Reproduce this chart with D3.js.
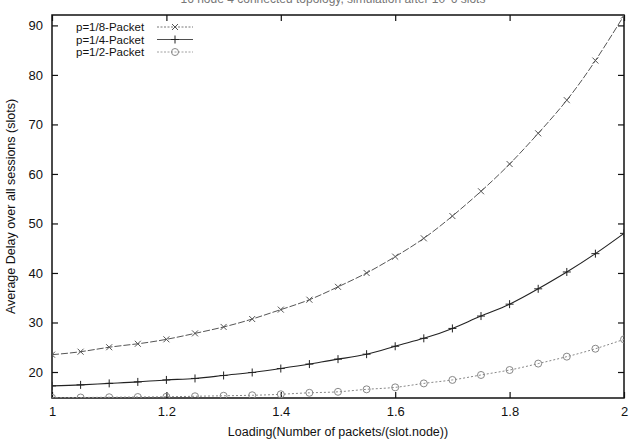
<!DOCTYPE html>
<html>
<head>
<meta charset="utf-8">
<script src="https://cdn.jsdelivr.net/npm/d3@7"></script>
<style>
  body { margin: 0; background: #fff; }
  text { font-family: "Liberation Sans", Arial, sans-serif; fill: #111; }
</style>
</head>
<body>
<div id="chart"></div>
<script>
// data
var loading = [1.0, 1.05, 1.1, 1.15, 1.2, 1.25, 1.3, 1.35, 1.4, 1.45, 1.5,
               1.55, 1.6, 1.65, 1.7, 1.75, 1.8, 1.85, 1.9, 1.95, 2.0];
var delayP8 = [23.5, 24.1, 25.0, 25.7, 26.6, 27.8, 29.1, 30.7, 32.6, 34.6, 37.2,
               40.0, 43.3, 47.0, 51.5, 56.5, 62.0, 68.2, 74.9, 82.9, 92.0];
var delayP4 = [17.2, 17.4, 17.7, 18.0, 18.4, 18.7, 19.3, 19.9, 20.7, 21.6, 22.6,
               23.6, 25.2, 26.8, 28.8, 31.3, 33.7, 36.8, 40.2, 43.9, 48.0];
var delayP2 = [14.8, 14.85, 14.9, 14.95, 15.0, 15.1, 15.2, 15.3, 15.5, 15.8, 16.0,
               16.5, 16.9, 17.7, 18.4, 19.4, 20.4, 21.7, 23.1, 24.7, 26.6];
var seriesNames = ["p=1/8-Packet", "p=1/4-Packet", "p=1/2-Packet"];
var xTicks = [1, 1.2, 1.4, 1.6, 1.8, 2];
var yTicks = [20, 30, 40, 50, 60, 70, 80, 90];

var width = 631, height = 443;
var margin = {top: 15, right: 7, bottom: 45, left: 52};
var plotW = width - margin.left - margin.right,
    plotH = height - margin.top - margin.bottom;

var svg = d3.select("#chart").append("svg")
    .attr("width", width)
    .attr("height", height);

// title, mostly cut off at the top edge like in the scan
svg.append("text")
    .attr("x", 333)
    .attr("y", 3)
    .attr("text-anchor", "middle")
    .style("font-size", "12px")
    .style("fill", "#777")
    .text("16 node 4 connected topology, simulation after 10^6 slots");

var g = svg.append("g")
    .attr("transform", "translate(" + margin.left + "," + margin.top + ")");

var x = d3.scaleLinear().domain([1, 2]).range([0, plotW]);
var y = d3.scaleLinear().domain([14.75, 92.1]).range([plotH, 0]);

// axes, ticks pointing inward
g.append("g")
    .attr("transform", "translate(0," + plotH + ")")
    .call(d3.axisBottom(x).tickValues(xTicks).tickFormat(d3.format("")).tickSize(-6).tickPadding(9))
    .call(function(a) { a.select(".domain").remove(); });
g.append("g")
    .call(d3.axisTop(x).tickValues(xTicks).tickFormat("").tickSize(-6))
    .call(function(a) { a.select(".domain").remove(); });
g.append("g")
    .call(d3.axisLeft(y).tickValues(yTicks).tickSize(-6).tickPadding(9))
    .call(function(a) { a.select(".domain").remove(); });
g.append("g")
    .attr("transform", "translate(" + plotW + ",0)")
    .call(d3.axisRight(y).tickValues(yTicks).tickFormat("").tickSize(-6))
    .call(function(a) { a.select(".domain").remove(); });

g.selectAll(".tick text").style("font-size", "13px").style("fill", "#111");
g.selectAll(".tick line").attr("stroke", "#111").attr("stroke-width", 1.2);

// frame
g.append("rect")
    .attr("width", plotW)
    .attr("height", plotH)
    .attr("fill", "none")
    .attr("stroke", "#111")
    .attr("stroke-width", 1.5);

// axis labels
svg.append("text")
    .attr("x", margin.left + plotW / 2)
    .attr("y", 436)
    .attr("text-anchor", "middle")
    .style("font-size", "12.5px")
    .text("Loading(Number of packets/(slot.node))");

svg.append("text")
    .attr("transform", "translate(15," + (margin.top + plotH / 2) + ") rotate(-90)")
    .attr("text-anchor", "middle")
    .style("font-size", "12.5px")
    .text("Average Delay over all sessions (slots)");

var series = [
    {name: seriesNames[0], values: delayP8, stroke: "#555", width: 1, dash: "7,2", mark: "x"},
    {name: seriesNames[1], values: delayP4, stroke: "#222", width: 1.1, dash: null, mark: "plus"},
    {name: seriesNames[2], values: delayP2, stroke: "#888", width: 1, dash: "2,2", mark: "circle"}
];

g.append("clipPath").attr("id", "plotClip")
    .append("rect").attr("width", plotW).attr("height", plotH);

var line = d3.line()
    .x(function(d) { return x(d[0]); })
    .y(function(d) { return y(d[1]); })
    .curve(d3.curveNatural);

function drawMark(sel, kind, color) {
    if (kind === "x") {
        sel.append("path").attr("d", "M-3,-3L3,3M-3,3L3,-3")
            .attr("stroke", color).attr("stroke-width", 1).attr("fill", "none");
    } else if (kind === "plus") {
        sel.append("path").attr("d", "M-4,0L4,0M0,-4L0,4")
            .attr("stroke", color).attr("stroke-width", 1).attr("fill", "none");
    } else {
        sel.append("circle").attr("r", 3.5)
            .attr("stroke", color).attr("stroke-width", 1).attr("fill", "none");
    }
}

var plot = g.append("g").attr("clip-path", "url(#plotClip)");

series.forEach(function(s) {
    var pts = loading.map(function(l, i) { return [l, s.values[i]]; });
    plot.append("path")
        .datum(pts)
        .attr("d", line)
        .attr("fill", "none")
        .attr("stroke", s.stroke)
        .attr("stroke-width", s.width)
        .attr("stroke-dasharray", s.dash);
    plot.selectAll(null)
        .data(pts)
        .enter()
        .append("g")
        .attr("transform", function(d) { return "translate(" + x(d[0]) + "," + y(d[1]) + ")"; })
        .each(function() { drawMark(d3.select(this), s.mark, s.stroke); });
});

// legend
var legend = svg.append("g").attr("transform", "translate(76,27)");
series.forEach(function(s, i) {
    var row = legend.append("g").attr("transform", "translate(0," + (i * 12.5) + ")");
    row.append("text")
        .attr("x", 0)
        .attr("y", 4)
        .style("font-size", "11.5px")
        .text(s.name);
    row.append("line")
        .attr("x1", 81).attr("x2", 117)
        .attr("stroke", s.stroke)
        .attr("stroke-width", 0.8)
        .attr("stroke-dasharray", s.mark === "plus" ? null : "2,1.5");
    drawMark(row.append("g").attr("transform", "translate(99,0)"), s.mark, s.stroke);
});
</script>
</body>
</html>
